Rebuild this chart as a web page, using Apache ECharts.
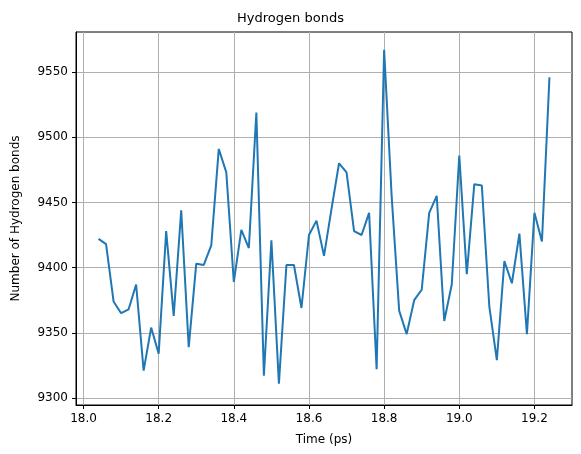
<!DOCTYPE html><html><head><meta charset="utf-8"><script src="https://cdn.jsdelivr.net/npm/echarts@6/dist/echarts.min.js"></script></head><body style="margin:0"><div id="c" style="width:581px;height:454px"></div><script>
var times=[];for(var i=0;i<61;i++)times.push(+(18.04+i*0.02).toFixed(2));
var hbonds=[9422,9418,9374,9365,9368,9387,9321,9354,9334,9428,9363,9444,9339,9403,9402,9417,9491,9473,9389,9429,9415,9519,9317,9421,9311,9402,9402,9369,9425,9436,9409,9445,9480,9473,9428,9425,9442,9322,9567,9455,9367,9349,9375,9383,9442,9455,9359,9387,9486,9395,9464,9463,9370,9329,9405,9388,9426,9349,9442,9420,9546];
var xTicks=[18.0,18.2,18.4,18.6,18.8,19.0,19.2];
var yTicks=[9300,9350,9400,9450,9500,9550];
var f='DejaVu Sans';
var ch=echarts.init(document.getElementById('c'));
ch.setOption({animation:false,
title:{text:'Hydrogen bonds',left:'center',top:7,textStyle:{fontFamily:f,fontSize:13,fontWeight:'normal',color:'#000'}},
grid:{left:76,right:9,top:32,bottom:49,show:true,borderColor:'#000',borderWidth:1},
xAxis:{type:'value',min:17.98,max:19.30,name:'Time (ps)',nameLocation:'middle',nameGap:29,nameTextStyle:{fontFamily:f,fontSize:12,color:'#000'},
axisLine:{lineStyle:{color:'#000'}},axisTick:{customValues:xTicks,length:4,lineStyle:{color:'#000'}},
axisLabel:{customValues:xTicks,fontFamily:f,fontSize:12,color:'#000',formatter:function(v){return v.toFixed(1);}},
splitLine:{show:true,lineStyle:{color:'#b0b0b0',width:1}}},
yAxis:{type:'value',min:9294.6,max:9580.7,name:'Number of Hydrogen bonds',nameLocation:'middle',nameGap:54,nameTextStyle:{fontFamily:f,fontSize:12,color:'#000'},
axisLine:{show:true,lineStyle:{color:'#000'}},axisTick:{show:true,customValues:yTicks,length:4,lineStyle:{color:'#000'}},
axisLabel:{customValues:yTicks,fontFamily:f,fontSize:12,color:'#000',formatter:function(v){return String(Math.round(v));}},
splitLine:{show:true,lineStyle:{color:'#b0b0b0',width:1}}},
series:[{type:'line',data:times.map(function(t,i){return [t,hbonds[i]];}),showSymbol:false,lineStyle:{color:'#1f77b4',width:2}}]});
</script></body></html>
